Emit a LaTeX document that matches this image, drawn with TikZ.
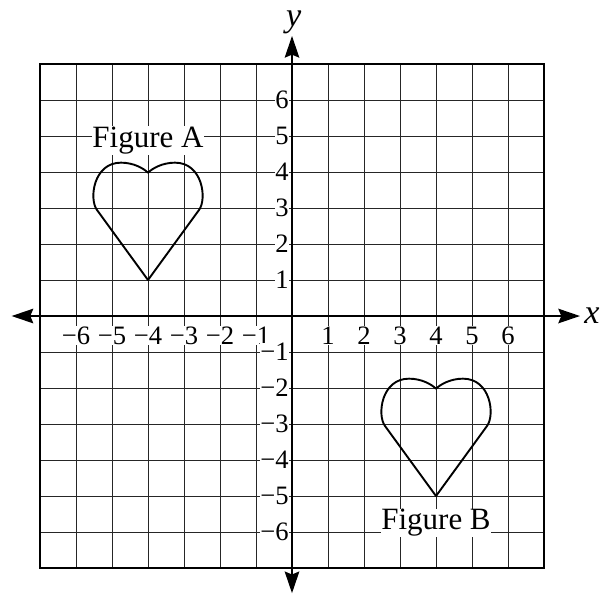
\documentclass[tikz,border=0pt]{standalone}
\usepackage{fontspec}
\setmainfont{Liberation Serif}
\usetikzlibrary{arrows.meta}
\tikzset{
  gridline/.style={line width=0.6pt, black!85},
  frameline/.style={line width=1.5pt},
  axisline/.style={line width=2pt, -{Stealth[length=6mm,width=4mm,inset=0.8mm]}},
  heartline/.style={line width=1.5pt, line join=round},
  ticklbl/.style={fill=white, inner sep=0.5pt, font=\fontsize{21}{21}\selectfont},
  figlbl/.style={fill=white, inner sep=0.6pt, font=\fontsize{24.5}{24.5}\selectfont},
  axislbl/.style={inner sep=0pt, font=\fontsize{27}{27}\selectfont\itshape}
}
\newcommand{\heartpath}{(0,0) -- (-1.42,1.95) .. controls (-1.64,2.25) and (-1.52,3.26) .. (-0.75,3.26) .. controls (-0.4,3.26) and (-0.12,3.1) .. (0,2.98) .. controls (0.12,3.1) and (0.4,3.26) .. (0.75,3.26) .. controls (1.52,3.26) and (1.64,2.25) .. (1.42,1.95) -- cycle}
\begin{document}
\begin{tikzpicture}[x=1cm,y=1cm]
\useasboundingbox (-8.111,-7.75) rectangle (8.694,8.778);
% grid
\draw[gridline] (-7,-7) grid (7,7);
\draw[frameline] (-7,-7) rectangle (7,7);
% axes
\coordinate (xl) at (-7.79,0);
\coordinate (xr) at (8.0,0);
\coordinate (yb) at (0,-7.7);
\coordinate (yt) at (0,7.78);
\coordinate (o) at (0,0);
\draw[axisline] (o) -- (xr);
\draw[axisline] (o) -- (xl);
\draw[axisline] (o) -- (yt);
\draw[axisline] (o) -- (yb);
\node[axislbl] (xlab) at (8.33,0.02) {x};
\node[axislbl] (ylab) at (0.05,8.15) {y};
% tick labels
\foreach \k in {1,...,6} {
  \node[ticklbl] (xp\k) at (\k,-0.54) {\k};
  \node[ticklbl] (xn\k) at (-\k,-0.54) {−\k};
  \node[ticklbl, anchor=east] (yp\k) at (-0.07,\k) {\k};
  \node[ticklbl, anchor=east] (yn\k) at (-0.07,-\k) {−\k};
}
% hearts
\draw[heartline, shift={(-4,1)}] \heartpath;
\draw[heartline, shift={(4,-5)}] \heartpath;
% figure labels
\node[figlbl, anchor=base] (figA) at (-4,4.69) {Figure A};
\node[figlbl, anchor=base] (figB) at (4,-5.94) {Figure B};
\end{tikzpicture}
\end{document}
